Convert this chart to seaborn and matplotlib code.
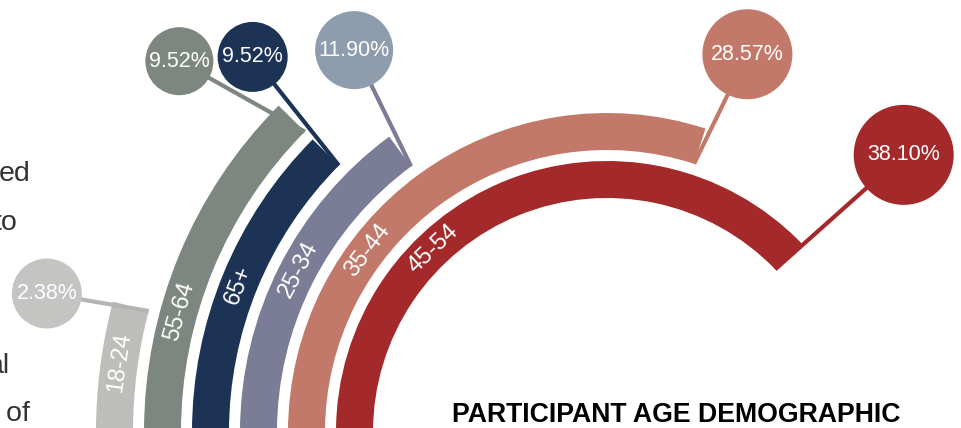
import numpy as np
import matplotlib
matplotlib.use("Agg")
import matplotlib.pyplot as plt
import seaborn as sns
import pandas as pd

# ---- data (rings listed from innermost to outermost) ----
ages = ["45-54", "35-44", "25-34", "65+", "55-64", "18-24"]
shares = [38.10, 28.57, 11.90, 9.52, 9.52, 2.38]
pct_labels = [f"{v:.2f}%" for v in shares]
title = "PARTICIPANT AGE DEMOGRAPHIC"
side_text = ["ed", "to", "al", "s of"]

# ---- style ----
bar_colors = ["#A3292A", "#C27969", "#7B7C95", "#1C3355", "#7E8680", "#BDBEBA"]
bubble_colors = ["#A3292A", "#C27969", "#8E9DAD", "#1C3355", "#7E8680", "#C4C5C2"]
leader_colors = ["#A3292A", "#C27969", "#7B7C95", "#1C3355", "#7E8680", "#B4B5B2"]
bub_dtheta = [1.0, 2.4, 2.9, 1.8, -3.9, -0.9]     # bubble angle offset (deg)
bub_r = [406, 403, 458, 516, 566, 577]            # bubble radial position
bub_px = [50, 45, 39, 35, 34, 35]                 # bubble radius in px
label_theta = [46.6, 37.2, 27.8, 21.7, 15.8, 8.1] # ring-label angle (deg)

sns.set_theme(style="white")
plt.rcParams["font.family"] = ["Liberation Sans", "DejaVu Sans"]

W, H, DPI = 962, 428, 100
fig = plt.figure(figsize=(W / DPI, H / DPI), dpi=DPI)
fig.patch.set_facecolor("white")

CX, CY = 607, 432
RMAX = 640
ax = fig.add_axes([(CX - RMAX) / W, (H - CY - RMAX) / H, 2 * RMAX / W, 2 * RMAX / H],
                  projection="polar")
ax.set_theta_zero_location("W")
ax.set_theta_direction(-1)

ring_in, ring_step, ring_w = 234, 48, 37
n = len(ages)
r_in = [ring_in + ring_step * j for j in range(n)]
theta_end = [np.deg2rad(7.39 * v ** 0.8) for v in shares]

ax.bar(x=np.zeros(n), height=ring_w, bottom=r_in, width=theta_end, align="edge",
       color=bar_colors, linewidth=0, zorder=1)

theta_b = [te + np.deg2rad(d) for te, d in zip(theta_end, bub_dtheta)]

# leaders
for j in range(n):
    ax.plot([theta_end[j], theta_b[j]], [r_in[j], bub_r[j]], color=leader_colors[j],
            lw=3, solid_capstyle="butt", zorder=2)

df = pd.DataFrame({"theta": theta_b, "r": bub_r, "age": ages})
sizes = {a: (2 * p * 72 / DPI) ** 2 for a, p in zip(ages, bub_px)}
sns.scatterplot(data=df, x="theta", y="r", hue="age", palette=dict(zip(ages, bubble_colors)),
                size="age", sizes=sizes, legend=False, linewidth=0, ax=ax, zorder=4)

for j in range(n):
    ax.text(theta_b[j], bub_r[j], pct_labels[j], ha="center", va="center",
            color="white", fontsize=15.5, zorder=5)

# ring labels
for j in range(n):
    th_deg = label_theta[j]
    ax.text(np.deg2rad(th_deg), r_in[j] + ring_w / 2, ages[j], rotation=90 - th_deg,
            rotation_mode="anchor", ha="center", va="center", color="white",
            fontsize=17, zorder=5)

ax.set_ylim(0, RMAX)
ax.set_axis_off()

fig.text(676 / W, 1 - 421.5 / H, title, ha="center", va="baseline", fontsize=19.2,
         fontweight="bold", color="black")

side_x = [31, 18, 10, 30]
side_y = [181, 230, 373, 421]
for t, x, y in zip(side_text, side_x, side_y):
    fig.text(x / W, 1 - y / H, t, ha="right", va="baseline", fontsize=20.5, color="#333333")

fig.savefig("out.png", dpi=DPI)
